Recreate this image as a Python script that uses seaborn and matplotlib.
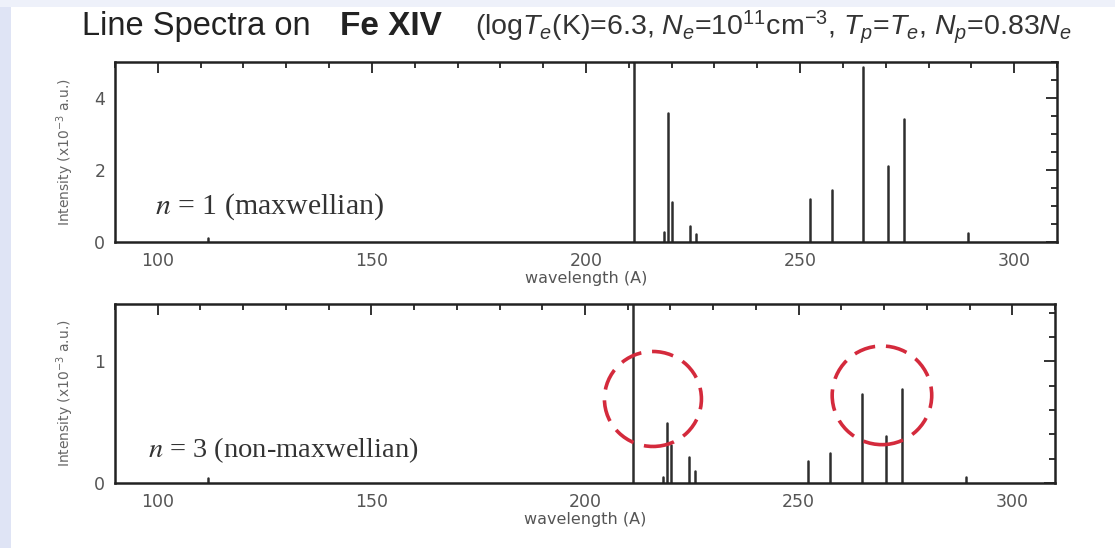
import numpy as np
import pandas as pd
import matplotlib
matplotlib.use("Agg")
import matplotlib.pyplot as plt
import seaborn as sns
from matplotlib.patches import Ellipse, Rectangle
from matplotlib.ticker import MultipleLocator

# ---------------- data ----------------
wavelengths = [111.8, 211.3, 218.2, 219.1, 220.1, 224.4, 225.7, 252.2, 257.4, 264.8, 270.5, 274.2, 289.1]
intensity_n1 = [0.12, 6.00, 0.28, 3.59, 1.11, 0.45, 0.21, 1.20, 1.45, 4.87, 2.10, 3.43, 0.25]
intensity_n3 = [0.04, 2.00, 0.05, 0.49, 0.31, 0.21, 0.10, 0.18, 0.25, 0.73, 0.385, 0.77, 0.05]
xticks = [100, 150, 200, 250, 300]
yticks_top = [0, 2, 4]
yticks_bot = [0, 1]
label_top = " = 1 (maxwellian)"
label_bot = " = 3 (non-maxwellian)"
# highlighted regions in the lower panel: (centre wavelength, centre intensity, width, height)
circles = [(215.9, 0.69, 22.7, 0.78), (269.5, 0.72, 23.3, 0.81)]

W, H = 1115, 548

sns.set_style("white")
plt.rcParams["font.family"] = ["DejaVu Sans"]
plt.rcParams["mathtext.fontset"] = "custom"
plt.rcParams["mathtext.rm"] = "Liberation Sans"
plt.rcParams["mathtext.it"] = "Liberation Sans:italic"
plt.rcParams["mathtext.bf"] = "Liberation Sans:bold"

fig = plt.figure(figsize=(W / 100, H / 100), dpi=100)
fig.patch.set_facecolor("white")
fig.patches.append(Rectangle((0, 0), 11 / W, 1, transform=fig.transFigure,
                             facecolor="#dfe4f5", edgecolor="none", zorder=-5))
fig.patches.append(Rectangle((0, 1 - 7 / H), 1, 7 / H, transform=fig.transFigure,
                             facecolor="#eef1fa", edgecolor="none", zorder=-5))


def px_axes(x0, y0, x1, y1):
    return [x0 / W, 1 - y1 / H, (x1 - x0) / W, (y1 - y0) / H]


ax1 = fig.add_axes(px_axes(115, 62, 1057, 242))
ax2 = fig.add_axes(px_axes(115, 304, 1055, 483))


def sticks(wl, inten):
    rows = []
    for i, (w, h) in enumerate(zip(wl, inten)):
        rows.append({"wl": w, "I": 0.0, "line": i})
        rows.append({"wl": w, "I": h, "line": i})
    return pd.DataFrame(rows)


for ax, inten, ymax, yt, ymin_step in [(ax1, intensity_n1, 5.0, yticks_top, 0.5),
                                       (ax2, intensity_n3, 1.47, yticks_bot, 0.2)]:
    sns.lineplot(data=sticks(wavelengths, inten), x="wl", y="I", units="line",
                 estimator=None, sort=False, color="#2e2e2e", lw=1.8,
                 legend=False, ax=ax)
    ax.set_xlim(90, 310)
    ax.set_ylim(0, ymax)
    ax.set_xticks(xticks)
    ax.set_yticks(yt)
    ax.xaxis.set_minor_locator(MultipleLocator(10))
    ax.yaxis.set_minor_locator(MultipleLocator(ymin_step))
    ax.tick_params(which="both", direction="in", top=True, right=True,
                   color="#222222", width=1.3, labelsize=12.5, labelcolor="#555555")
    ax.tick_params(which="major", length=8, pad=7)
    ax.tick_params(which="minor", length=4)
    for s in ax.spines.values():
        s.set_linewidth(1.8)
        s.set_color("#222222")
    ax.set_xlabel("wavelength (A)", fontsize=11.5, color="#555555", labelpad=1)
    ax.set_ylabel("Intensity (x10$^{-3}$ a.u.)", fontsize=10, color="#666666",
                  labelpad=13)
    ax.yaxis.label.set_math_fontfamily("dejavusans")

for ax, lab, pos, fs in [(ax1, label_top, (99.4, 0.8), 21.5), (ax2, label_bot, (97.8, 0.21), 20.5)]:
    ax.text(pos[0], pos[1], "$n$" + lab, fontsize=fs, family="Liberation Serif",
            color="#333333", va="baseline", ha="left", math_fontfamily="stix")

for (cx, cy, cw, ch) in circles:
    ax2.add_patch(Ellipse((cx, cy), cw, ch, fill=False, edgecolor="#d42a3c",
                          lw=2.6, ls=(0, (6, 3)), zorder=5, clip_on=False))

# ---------------- title ----------------
ty = 1 - 35 / H
fig.text(82 / W, ty, "Line Spectra on", fontsize=23.5, family="Liberation Sans",
         color="#222222", va="baseline")
fig.text(340 / W, ty, "Fe XIV", fontsize=24, family="Liberation Sans",
         fontweight="bold", color="#222222", va="baseline")
fig.text(475 / W, ty,
         r"(log$T_e$(K)=6.3, $N_e$=10$^{11}$cm$^{-3}$, $T_p$=$T_e$, $N_p$=0.83$N_e$",
         fontsize=20.5, family="Liberation Sans", color="#333333", va="baseline")

fig.savefig("out.png", dpi=100)
